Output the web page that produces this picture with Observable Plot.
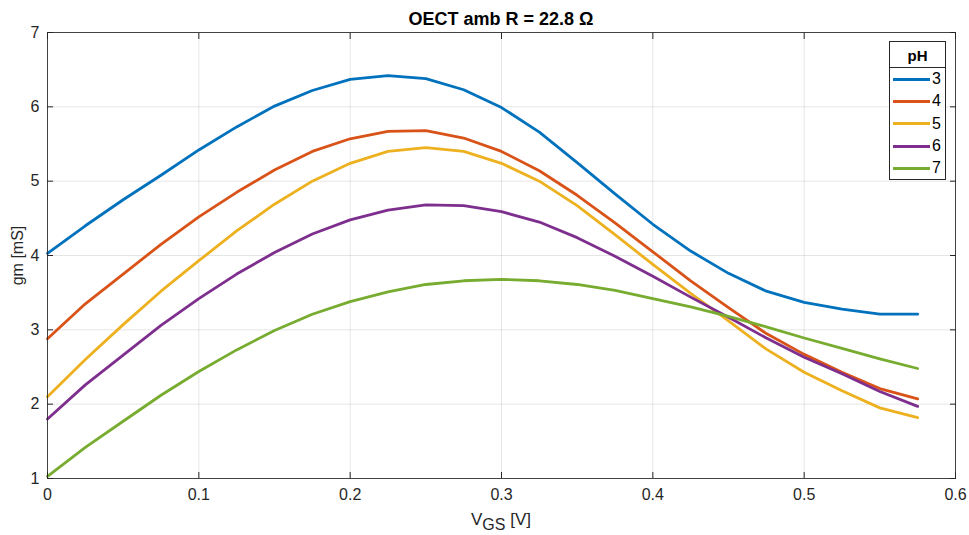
<!DOCTYPE html>
<html>
<head>
<meta charset="utf-8">
<script src="https://cdn.jsdelivr.net/npm/d3@7"></script>
<script src="https://cdn.jsdelivr.net/npm/@observablehq/plot@0.6"></script>
<style>
  html, body { margin: 0; padding: 0; background: #fff; }
  body { width: 969px; height: 535px; position: relative; overflow: hidden; font-family: "Liberation Sans", Arial, Helvetica, sans-serif; color: #262626; }
  #title { height: 26px; line-height: 20px; padding-top: 9px; box-sizing: border-box; margin-left: 47px; width: 908px; text-align: center; font-weight: bold; font-size: 18px; color: #000; white-space: nowrap; }
  #chart svg { overflow: visible; display: block; }
  #chart svg text { font-size: 16px !important; font-family: "Liberation Sans", Arial, Helvetica, sans-serif !important; }
  #xlabel { height: 28px; margin-left: 47px; width: 908px; text-align: center; font-size: 17px; line-height: 26px; color: #262626; }
  #xlabel sub { font-size: 16px; vertical-align: -5px; line-height: 0; }
  #legend { position: absolute; left: 889px; top: 41px; width: 57px; border: 1px solid #262626; background: #fff; box-sizing: border-box; }
  #legend .head { text-align: center; font-weight: bold; font-size: 15px; height: 25px; line-height: 27px; border-bottom: 1px solid #262626; color: #000; }
  #legend .row { display: flex; align-items: center; height: 22.3px; padding-left: 3px; }
  #legend .row:first-of-type { margin-top: 2px; }
  #legend .sw { width: 37px; height: 3px; margin-right: 2px; }
  #legend .lb { font-size: 16px; color: #000; }
</style>
</head>
<body>
<div id="title">OECT amb R = 22.8 Ω</div>
<div id="chart"></div>
<div id="xlabel">V<sub>GS</sub> [V]</div>
<div id="legend"></div>
<script>
// ---- data ----
const vgs = [0, 0.025, 0.05, 0.075, 0.1, 0.125, 0.15, 0.175, 0.2, 0.225, 0.25, 0.275,
             0.3, 0.325, 0.35, 0.375, 0.4, 0.425, 0.45, 0.475, 0.5, 0.525, 0.55, 0.575];
const pHLevels = ["3", "4", "5", "6", "7"];
const gm_pH3 = [4.03, 4.40, 4.75, 5.08, 5.42, 5.73, 6.01, 6.22, 6.37, 6.42, 6.38, 6.23,
                5.99, 5.66, 5.25, 4.83, 4.42, 4.06, 3.76, 3.52, 3.37, 3.28, 3.21, 3.21];
const gm_pH4 = [2.88, 3.35, 3.75, 4.15, 4.52, 4.85, 5.15, 5.40, 5.57, 5.67, 5.68, 5.58,
                5.40, 5.14, 4.81, 4.44, 4.05, 3.66, 3.30, 2.95, 2.67, 2.43, 2.21, 2.07];
const gm_pH5 = [2.10, 2.60, 3.07, 3.52, 3.93, 4.33, 4.69, 5.00, 5.24, 5.40, 5.45, 5.40,
                5.24, 5.00, 4.67, 4.28, 3.88, 3.49, 3.12, 2.74, 2.43, 2.18, 1.95, 1.82];
const gm_pH6 = [1.80, 2.26, 2.66, 3.06, 3.42, 3.75, 4.04, 4.29, 4.48, 4.61, 4.68, 4.67,
                4.59, 4.45, 4.24, 3.99, 3.72, 3.44, 3.17, 2.89, 2.63, 2.41, 2.17, 1.97];
const gm_pH7 = [1.03, 1.42, 1.77, 2.12, 2.44, 2.73, 2.99, 3.21, 3.38, 3.51, 3.61, 3.66,
                3.68, 3.66, 3.61, 3.53, 3.42, 3.31, 3.18, 3.04, 2.89, 2.75, 2.61, 2.48];
const xTicks = [0, 0.1, 0.2, 0.3, 0.4, 0.5, 0.6];
const yTicks = [1, 2, 3, 4, 5, 6, 7];
const colors = ["#0072BD", "#D95319", "#EDB120", "#7E2F8E", "#77AC30"];

const seriesValues = [gm_pH3, gm_pH4, gm_pH5, gm_pH6, gm_pH7];
const rows = [];
pHLevels.forEach((p, i) => vgs.forEach((v, j) => rows.push({pH: p, vgs: v, gm: seriesValues[i][j]})));

const axisColor = "#262626";
const chart = Plot.plot({
  width: 969,
  height: 481,
  marginLeft: 47,
  marginRight: 14,
  marginTop: 6,
  marginBottom: 29,
  style: {fontFamily: "'Liberation Sans', Arial, Helvetica, sans-serif", fontSize: "16px", color: axisColor, background: "#fff", overflow: "visible"},
  x: {domain: [0, 0.6], ticks: xTicks},
  y: {domain: [1, 7], ticks: yTicks},
  color: {domain: pHLevels, range: colors},
  marks: [
    Plot.gridX(xTicks, {stroke: "#000", strokeOpacity: 0.1}),
    Plot.gridY(yTicks, {stroke: "#000", strokeOpacity: 0.1}),
    Plot.line(rows, {x: "vgs", y: "gm", z: "pH", stroke: "pH", strokeWidth: 2.8, curve: "linear"}),
    Plot.axisX(xTicks, {anchor: "bottom", tickSize: 0, tickPadding: 10, tickFormat: d => String(d), label: null, fill: axisColor}),
    Plot.axisX(xTicks, {anchor: "bottom", tickSize: 6, dy: -6, tickFormat: () => "", label: null, stroke: axisColor}),
    Plot.axisX(xTicks, {anchor: "top", tickSize: 6, dy: 6, tickFormat: () => "", label: null, stroke: axisColor}),
    Plot.axisY(yTicks, {anchor: "left", tickSize: 0, tickPadding: 8, tickFormat: d => String(d), label: "gm [mS]", labelAnchor: "center", labelArrow: "none", labelOffset: 36, fill: axisColor}),
    Plot.axisY(yTicks, {anchor: "left", tickSize: 6, dx: 6, tickFormat: () => "", label: null, stroke: axisColor}),
    Plot.axisY(yTicks, {anchor: "right", tickSize: 6, dx: -6, tickFormat: () => "", label: null, stroke: axisColor}),
    Plot.frame({stroke: axisColor, strokeOpacity: 0.85})
  ]
});
document.getElementById("chart").appendChild(chart);
chart.querySelectorAll("text").forEach(t => { t.setAttribute("font-size", "16"); t.style.fontSize = "16px"; });

// legend
const lg = document.getElementById("legend");
const head = document.createElement("div");
head.className = "head";
head.textContent = "pH";
lg.appendChild(head);
pHLevels.forEach((p, i) => {
  const r = document.createElement("div");
  r.className = "row";
  const sw = document.createElement("div");
  sw.className = "sw";
  sw.style.background = colors[i];
  const lb = document.createElement("span");
  lb.className = "lb";
  lb.textContent = p;
  r.appendChild(sw); r.appendChild(lb);
  lg.appendChild(r);
});
</script>
</body>
</html>
